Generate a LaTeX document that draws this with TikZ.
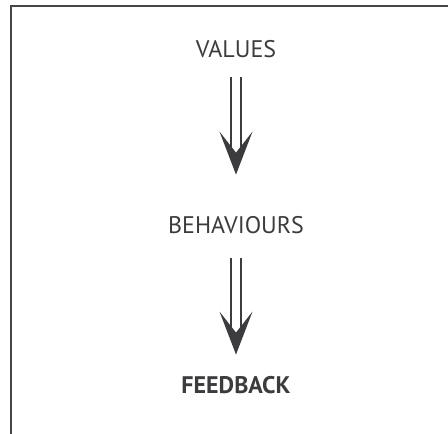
\documentclass[tikz,border=0pt]{standalone}
\usepackage{fontspec}
\setmainfont{PT Sans}
\usepackage{tikz}
\usetikzlibrary{positioning}
\definecolor{vbgrey}{RGB}{60,60,62}
\definecolor{vbframe}{RGB}{70,70,70}
\tikzstyle{stage} = [inner sep=0pt, text=vbgrey, font=\fontsize{24}{28}\selectfont]
\tikzstyle{shaft} = [draw=vbgrey, double=white, line width=1.6pt, double distance=8pt]
\tikzstyle{headfill} = [fill=vbgrey]

\begin{document}
\begin{tikzpicture}[x=1pt, y=1pt]
\useasboundingbox (0,0) rectangle (448,434);
% frame (top and left edges only)
\draw[vbframe, line width=2.2pt] (448,428) -- (11,428) -- (11,0);

% the three stages
\node (values) [stage] at (236,384.5) {VALUES};
\node (behaviours) [stage, below of=values, node distance=176pt] {BEHAVIOURS};
\node (feedback) [stage, below of=behaviours, node distance=160pt, font=\fontsize{24}{28}\selectfont\bfseries] {FEEDBACK};

% arrow tips
\coordinate (tipA) at ([yshift=42pt]behaviours.north);
\coordinate (tipB) at ([yshift=22pt]feedback.north);

% arrows: double shaft, then the solid head on top
\draw[shaft, shorten <=19pt] (values) -- ([yshift=26pt]tipA);
\fill[headfill] (tipA) -- ++(-16.5,43) -- ++(16.5,-21) -- ++(16.5,21) -- cycle;
\draw[shaft, shorten <=24pt] (behaviours) -- ([yshift=26pt]tipB);
\fill[headfill] (tipB) -- ++(-16.5,43) -- ++(16.5,-21) -- ++(16.5,21) -- cycle;
\end{tikzpicture}
\end{document}
